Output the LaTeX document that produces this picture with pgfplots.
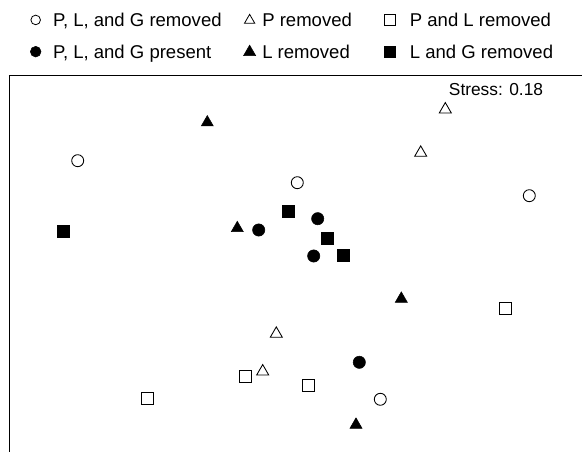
\documentclass[border=0pt]{standalone}
\usepackage{fontspec}
\setmainfont{Liberation Sans}
\usepackage{pgfplots}
\pgfplotsset{compat=1.18}
\begin{document}
\begin{tikzpicture}
\begin{axis}[
  scale only axis,
  width=429.75pt, height=282.75pt,
  xmin=9, xmax=582, ymin=-452, ymax=-75,
  axis x line*=top, axis y line*=left,
  axis line style={-, line width=0.7pt, black},
  xtick=\empty, ytick=\empty,
  legend columns=3,
  legend cell align=left,
  legend style={draw=none, fill=none, inner sep=0pt, outer sep=0pt,
    column sep=0pt, row sep=10.8pt,
    at={(axis description cs:0.0361,1.1637)}, anchor=north west,
    font=\fontsize{13.9}{16}\selectfont,
    nodes={inner sep=0pt, text height=10pt, text depth=3pt}},
]
% open circles: P, L, and G removed
\addplot[only marks, mark=o, mark size=4.5pt, mark options={line width=0.65pt, black},
  legend image code/.code={\path[draw=none,fill=none] (-4.5pt,0) -- (13pt,0);
    \draw[mark=o, mark size=3.6pt, mark options={line width=0.6pt}] plot coordinates {(0,1.5pt)};}]
  coordinates {(77.7,-160.7) (297.3,-182.7) (529.3,-195.7) (380.3,-399.3)};
\addlegendentry{P, L, and G removed}
% open triangles: P removed
\addplot[only marks, mark=triangle, mark size=5.2pt, mark options={line width=0.65pt, black},
  legend image code/.code={\path[draw=none,fill=none] (-21pt,0) -- (9.5pt,0);
    \draw[mark=triangle, mark size=4.5pt, mark options={line width=0.6pt}] plot coordinates {(0,1.2pt)};}]
  coordinates {(445.3,-109.5) (420.7,-152.8) (276.3,-333.8) (262.7,-371.5)};
\addlegendentry{P removed}
% open squares: P and L removed
\addplot[only marks, mark=square, mark size=4.5pt, mark options={line width=0.65pt, black},
  legend image code/.code={\path[draw=none,fill=none] (-28.5pt,0) -- (15pt,0);
    \draw[mark=square, mark size=3.9pt, mark options={line width=0.6pt}] plot coordinates {(0,1.5pt)};}]
  coordinates {(505,-308.7) (245.3,-376) (308.3,-385.7) (147.7,-398.3)};
\addlegendentry{P and L removed}
% filled circles: P, L, and G present
\addplot[only marks, mark=*, mark size=4.6pt, mark options={black, fill=black},
  legend image code/.code={\path[draw=none,fill=none] (-4.5pt,0) -- (13pt,0);
    \draw[mark=*, mark size=4pt, mark options={fill=black}] plot coordinates {(0,1.5pt)};}]
  coordinates {(258.7,-230) (317.7,-218.7) (313.7,-256) (359.3,-362.3)};
\addlegendentry{P, L, and G present}
% filled triangles: L removed
\addplot[only marks, mark=triangle*, mark size=5.2pt, mark options={black, fill=black},
  legend image code/.code={\path[draw=none,fill=none] (-21pt,0) -- (9.5pt,0);
    \draw[mark=triangle*, mark size=5.2pt, mark options={fill=black}] plot coordinates {(0,1.2pt)};}]
  coordinates {(207.3,-122.5) (237.3,-228.2) (401.3,-298.8) (356,-424.8)};
\addlegendentry{L removed}
% filled squares: L and G removed
\addplot[only marks, mark=square*, mark size=4.5pt, mark options={black, fill=black},
  legend image code/.code={\path[draw=none,fill=none] (-28.5pt,0) -- (15pt,0);
    \draw[mark=square*, mark size=4pt, mark options={fill=black}] plot coordinates {(0,1.5pt)};}]
  coordinates {(63,-231.7) (288.3,-211) (327,-238.7) (343,-255.7)};
\addlegendentry{L and G removed}
\node[font=\fontsize{13}{15}\selectfont, inner sep=0pt] at (axis cs:496,-89.3) {Stress: 0.18};
\coordinate (bbtl) at (axis cs:0,0);
\coordinate (bbbr) at (axis cs:582,-452);
\end{axis}
\pgfresetboundingbox
\path (bbtl) rectangle (bbbr);
\end{tikzpicture}
\end{document}
